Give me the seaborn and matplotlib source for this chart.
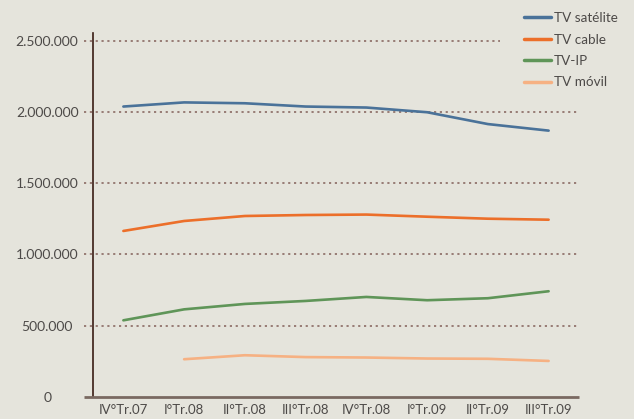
import numpy as np
import pandas as pd
import matplotlib
matplotlib.use("Agg")
import matplotlib.pyplot as plt
from matplotlib.ticker import FixedLocator, FuncFormatter
import seaborn as sns

# data
quarters = ["IV°Tr.07", "I°Tr.08", "II°Tr.08", "III°Tr.08",
            "IV°Tr.08", "I°Tr.09", "II°Tr.09", "III°Tr.09"]
tv_satelite = [2038000, 2067000, 2061000, 2038000, 2031000, 1998000, 1915000, 1869000]
tv_cable = [1165000, 1235000, 1270000, 1277000, 1280000, 1265000, 1251000, 1244000]
tv_ip = [538000, 615000, 653000, 674000, 702000, 679000, 693000, 742000]
tv_movil = [np.nan, 265000, 293000, 280000, 277000, 270000, 268000, 253000]

series_names = ["TV satélite", "TV cable", "TV-IP", "TV móvil"]
colors = ["#4a7299", "#ec6f2a", "#5f9558", "#f6b183"]

df = pd.DataFrame({"quarter": quarters, "TV satélite": tv_satelite,
                   "TV cable": tv_cable, "TV-IP": tv_ip, "TV móvil": tv_movil})
long_df = df.melt(id_vars="quarter", var_name="serie", value_name="abonados").dropna()
long_df["x"] = long_df["quarter"].map({q: i for i, q in enumerate(quarters)})

bg = "#e5e4dc"
text_col = "#4d4a48"
grid_col = "#8a6a63"

sns.set_style("white")
plt.rcParams["font.family"] = ["Lato", "DejaVu Sans"]

fig = plt.figure(figsize=(6.34, 4.19), dpi=100, facecolor=bg)
ax = fig.add_axes([93 / 634, 1 - 397 / 419, 486 / 634, 364 / 419])
ax.set_facecolor(bg)

sns.lineplot(data=long_df, x="x", y="abonados", hue="serie", hue_order=series_names,
             palette=colors, linewidth=1.9, ax=ax, sort=False)

ax.set_xlim(-0.5, 7.5)
ax.set_ylim(0, 2554000)

# dotted horizontal guides (top one stops short of the legend)
for v in [500000, 1000000, 1500000, 2000000, 2500000]:
    xmax = 6.2 if v == 2500000 else 7.5
    ax.hlines(v, -0.65, xmax, colors=grid_col, linestyles=(0, (1.3, 2.2)),
              linewidth=1.2, clip_on=False, zorder=1)

ax.set_yticks([0, 500000, 1000000, 1500000, 2000000, 2500000])
ax.yaxis.set_major_formatter(FuncFormatter(lambda v, p: f"{int(v):,}".replace(",", ".")))
ax.tick_params(axis="y", length=0, pad=33, labelsize=10, labelcolor=text_col)
for lab in ax.get_yticklabels():
    lab.set_horizontalalignment("center")

ax.set_xticks(range(len(quarters)))
ax.set_xticklabels(quarters)
ax.xaxis.set_minor_locator(FixedLocator(np.arange(0.5, 8.0, 1.0)))
ax.tick_params(axis="x", which="major", length=0, pad=5, labelsize=9.5, labelcolor=text_col)
ax.tick_params(axis="x", which="minor", length=7, width=1.2, color="#6e5a52", direction="out")

ax.set_xlabel("")
ax.set_ylabel("")

for s in ["top", "right"]:
    ax.spines[s].set_visible(False)
ax.spines["left"].set_color("#3a1c14")
ax.spines["left"].set_linewidth(1.2)
ax.spines["bottom"].set_visible(False)
ax.hlines(0, -0.65, 7.5, colors="#7a6961", linewidth=2.0, clip_on=False, zorder=3)

leg = ax.legend(loc="upper left", bbox_to_anchor=(0.875, 1.072), frameon=False,
                fontsize=9.7, handlelength=2.0, handletextpad=0.25, labelspacing=0.7,
                borderaxespad=0)
for t in leg.get_texts():
    t.set_color(text_col)
for h in leg.get_lines():
    h.set_linewidth(2.5)

fig.savefig("out.png", dpi=100, facecolor=bg)
